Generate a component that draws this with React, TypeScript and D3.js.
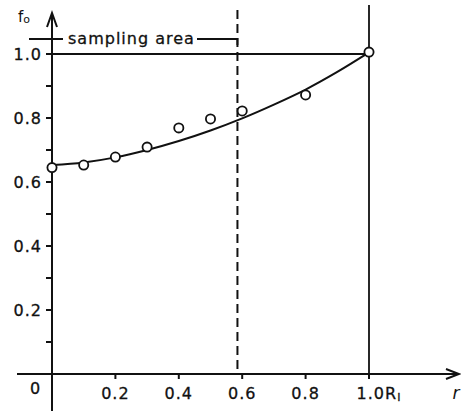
import React from "react";
import * as d3 from "d3";

const sampleR = [0, 0.1, 0.2, 0.3, 0.4, 0.5, 0.6, 0.8, 1.0];
const sampleF = [0.645, 0.653, 0.678, 0.709, 0.769, 0.797, 0.822, 0.872, 1.006];

const curveR = [0, 0.1, 0.2, 0.3, 0.4, 0.5, 0.6, 0.7, 0.8, 0.9, 1.0];
const curveF = [0.653, 0.661, 0.677, 0.7, 0.728, 0.761, 0.799, 0.842, 0.889, 0.944, 1.005];

const yMajor = [0.2, 0.4, 0.6, 0.8, 1.0];
const yMajorLabels = ["0.2", "0.4", "0.6", "0.8", "1.0"];
const yMinor = [0.1, 0.3, 0.5, 0.7, 0.9];
const xTicks = [0.2, 0.4, 0.6, 0.8];
const xTickLabels = ["0.2", "0.4", "0.6", "0.8"];
const samplingEdge = 0.585;

const W = 461;
const H = 411;

export default function App() {
  const x = d3.scaleLinear().domain([0, 1]).range([52, 369]);
  const y = d3.scaleLinear().domain([0, 1]).range([374, 54]);
  const font = "'DejaVu Sans', sans-serif";

  const line = d3
    .line<number>()
    .x((_, i) => x(curveR[i]))
    .y((d) => y(d))
    .curve(d3.curveCatmullRom);

  const x0 = x(0);
  const y0 = y(0);
  const xs = x(samplingEdge);

  return (
    <svg
      width={W}
      height={H}
      style={{ position: "absolute", left: 0, top: 0, background: "#fff" }}
      fontFamily={font}
    >
      {/* y axis */}
      <line x1={x0} y1={13} x2={x0} y2={411} stroke="#111" strokeWidth={2} />
      <polyline points={`${x0 - 5},${27} ${x0},${13} ${x0 + 5},${27}`} fill="none" stroke="#111" strokeWidth={2} />
      {/* x axis */}
      <line x1={17} y1={y0} x2={459} y2={y0} stroke="#111" strokeWidth={2} />
      <polyline points={`${446},${y0 - 5} ${459},${y0} ${446},${y0 + 5}`} fill="none" stroke="#111" strokeWidth={2} />

      {/* y ticks */}
      {yMajor.map((v, i) => (
        <g key={"ym" + i}>
          <line x1={x0 - 6} x2={x0} y1={y(v)} y2={y(v)} stroke="#111" strokeWidth={2} />
          <text x={x0 - 10} y={y(v)} dy="0.35em" textAnchor="end" fontSize={16} letterSpacing={1} fill="#111" stroke="#111" strokeWidth={0.3}>
            {yMajorLabels[i]}
          </text>
        </g>
      ))}
      {yMinor.map((v, i) => (
        <line key={"yn" + i} x1={x0 - 6} x2={x0} y1={y(v)} y2={y(v)} stroke="#111" strokeWidth={2} />
      ))}

      {/* x ticks */}
      {xTicks.map((v, i) => (
        <g key={"xt" + i}>
          <line x1={x(v)} x2={x(v)} y1={y0} y2={y0 + 5} stroke="#111" strokeWidth={2} />
          <text x={x(v)} y={393} dy="0.35em" textAnchor="middle" fontSize={16} letterSpacing={1} fill="#111" stroke="#111" strokeWidth={0.3}>
            {xTickLabels[i]}
          </text>
        </g>
      ))}
      <line x1={x(1)} x2={x(1)} y1={y0} y2={y0 + 5} stroke="#111" strokeWidth={2} />
      <text x={x(1) + 10} y={393} dy="0.35em" textAnchor="middle" fontSize={16} letterSpacing={1} fill="#111" stroke="#111" strokeWidth={0.3}>
        1.0R<tspan fontSize={11} dy="2">I</tspan>
      </text>
      <text x={35} y={388} dy="0.35em" textAnchor="middle" fontSize={16} fill="#111" stroke="#111" strokeWidth={0.3}>0</text>
      <text x={456} y={393} dy="0.35em" textAnchor="middle" fontSize={17} fontStyle="italic" fill="#111">r</text>

      {/* y axis label */}
      <text x={18} y={22} fontSize={15} fill="#111">
        f<tspan fontSize={11} dy="1">o</tspan>
      </text>

      {/* reference lines */}
      <line x1={x0} x2={x(1)} y1={y(1)} y2={y(1)} stroke="#111" strokeWidth={1.8} />
      <line x1={x(1)} x2={x(1)} y1={5} y2={y0} stroke="#111" strokeWidth={1.8} />
      <line x1={xs} x2={xs} y1={10} y2={y0} stroke="#111" strokeWidth={2} strokeDasharray="9,5" />

      {/* sampling area bracket */}
      <line x1={29} x2={63} y1={39} y2={39} stroke="#111" strokeWidth={1.8} />
      <text x={68} y={44} fontSize={16} letterSpacing={1} fill="#111" stroke="#111" strokeWidth={0.3}>sampling area</text>
      <polyline points={`197,39 ${xs},39 ${xs},45`} fill="none" stroke="#111" strokeWidth={1.8} />

      {/* curve */}
      <path d={line(curveF) || ""} fill="none" stroke="#111" strokeWidth={2} />

      {/* samples */}
      {sampleR.map((r, i) => (
        <circle key={"c" + i} cx={x(r)} cy={y(sampleF[i])} r={4.6} fill="#fff" stroke="#111" strokeWidth={1.8} />
      ))}
    </svg>
  );
}
